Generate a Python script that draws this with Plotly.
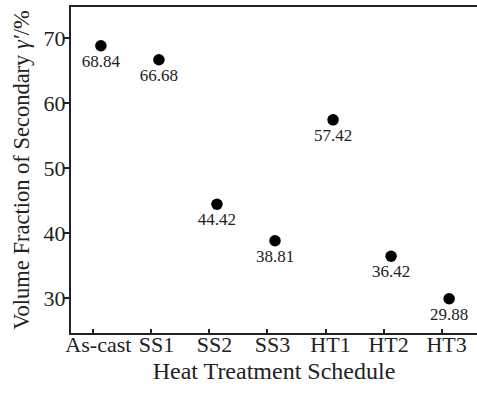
import plotly.graph_objects as go

categories = ["As-cast", "SS1", "SS2", "SS3", "HT1", "HT2", "HT3"]
values = [68.84, 66.68, 44.42, 38.81, 57.42, 36.42, 29.88]
labels = ["68.84", "66.68", "44.42", "38.81", "57.42", "36.42", "29.88"]
y_ticks = [30, 40, 50, 60, 70]

tick_pos = list(range(len(categories)))
point_x = [i + 0.13 for i in tick_pos]

FONT = "Liberation Serif, Times New Roman, serif"

fig = go.Figure(
    go.Scatter(
        x=point_x,
        y=values,
        mode="markers+text",
        text=labels,
        textposition="bottom center",
        textfont=dict(family=FONT, size=17, color="#222"),
        marker=dict(size=11.5, color="black"),
        cliponaxis=False,
        showlegend=False,
        hoverinfo="skip",
    )
)

fig.update_layout(
    width=477,
    height=393,
    margin=dict(l=71, r=0, t=7, b=60),
    paper_bgcolor="white",
    plot_bgcolor="white",
    font=dict(family=FONT, size=20, color="black"),
)

fig.update_xaxes(
    range=[-0.385, 6.61],
    tickvals=tick_pos,
    ticktext=categories,
    showgrid=False,
    zeroline=False,
    showline=True,
    linecolor="#222",
    linewidth=2,
    mirror=True,
    ticks="inside",
    ticklen=4,
    tickwidth=1.5,
    tickcolor="#222",
    ticklabelstandoff=-9,
    ticklabelshift=5,
    automargin=False,
    tickfont=dict(family=FONT, size=22, color="#222"),
    title=dict(text="Heat Treatment Schedule", font=dict(family=FONT, size=24, color="#222"), standoff=6),
)

fig.update_yaxes(
    range=[24.6, 74.8],
    tickvals=y_ticks,
    showgrid=False,
    zeroline=False,
    showline=True,
    linecolor="#222",
    linewidth=2,
    ticks="outside",
    ticklen=5,
    tickwidth=1.5,
    tickcolor="#222",
    ticklabelstandoff=-6,
    automargin=False,
    tickfont=dict(family=FONT, size=22, color="#222"),
    title=dict(text="Volume Fraction of Secondary <i>γ′</i>/%", font=dict(family=FONT, size=22.5, color="#222"), standoff=8),
)

fig.write_html(
    "out.html",
    config={"displayModeBar": False},
    post_script="document.body.style.margin='0';document.body.style.overflow='hidden';",
)
